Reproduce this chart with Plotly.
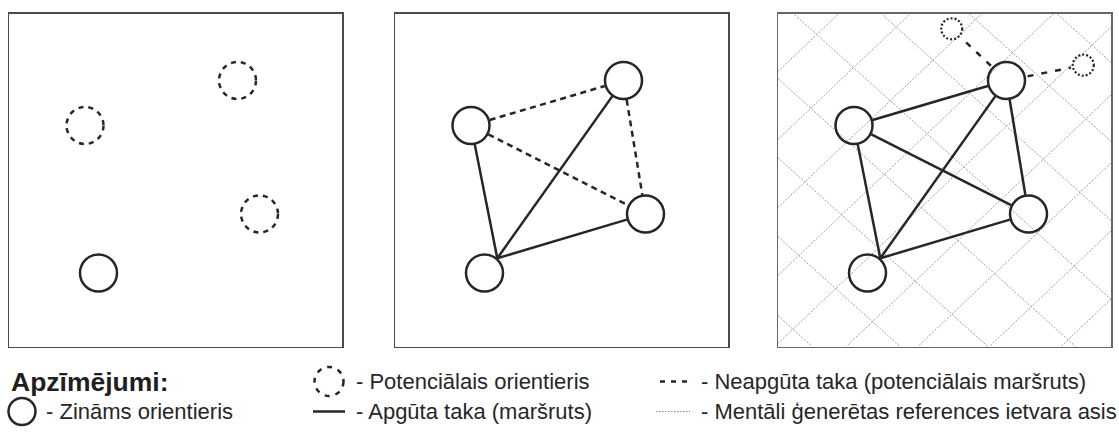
import numpy as np
import plotly.graph_objects as go

W, H = 1119, 434
BOX = 333.0

# ---- data -------------------------------------------------------------
# landmark positions inside each square panel (px from panel top-left)
node_x = [228.5, 76.0, 250.5, 89.5]     # 0 top-right, 1 left, 2 right, 3 bottom
node_y = [67.0, 112.0, 200.5, 259.5]

# panel 1: which landmarks are known / only potential
p1_known = [3]
p1_potential = [0, 1, 2]

# panel 2 routes
p2_learned = [(3, 1), (3, 0), (3, 2)]
p2_unlearned = [(1, 0), (1, 2), (0, 2)]

# panel 3 routes
p3_learned = [(3, 1), (3, 0), (3, 2), (1, 0), (1, 2), (0, 2)]
p3_extra_x = [173.7, 305.3]
p3_extra_y = [15.3, 51.7]
p3_unlearned_to_extra = [(0, 0), (0, 1)]

# mental reference frame axes (panel 3): y = slope*x + offset
grid_a_slope = 0.9
grid_a_offsets = [-250.8, -171.8, -92.8, -13.8, 65.2, 144.2, 223.2, 302.2]
grid_b_slope = -0.95
grid_b_offsets = [-10.1, 57.9, 125.9, 193.9, 261.9, 329.9, 397.9, 465.9, 533.9, 601.9]

legend_title = "Apzīmējumi:"
legend_labels = [
    "- Zināms orientieris",
    "- Potenciālais orientieris",
    "- Apgūta taka (maršruts)",
    "- Neapgūta taka (potenciālais maršruts)",
    "- Mentāli ģenerētas references ietvara asis",
]

# ---- layout ----------------------------------------------------------------
INK = "#262626"
R_BIG = 18.5
R_SMALL = 10.5
HUB = 3                   # the start landmark: all its routes leave from one point
HUB_ANGLE = np.deg2rad(-49)
panel_left = [9, 395, 778]
panel_top = 13.5

fig = go.Figure()
shapes = []
annotations = []


def ax_names(i):
    return ("x" if i == 0 else f"x{i+1}", "y" if i == 0 else f"y{i+1}")


def clip_line(m, c):
    pts = []
    for X in (0.0, BOX):
        Y = m * X + c
        if 0 <= Y <= BOX:
            pts.append((X, Y))
    for Y in (0.0, BOX):
        X = (Y - c) / m
        if 0 <= X <= BOX:
            pts.append((X, Y))
    uniq = []
    for p in pts:
        if all(abs(p[0] - q[0]) > 1e-6 or abs(p[1] - q[1]) > 1e-6 for q in uniq):
            uniq.append(p)
    if len(uniq) < 2:
        return None
    return uniq[:2]


def segment(p, q, rp, rq):
    p = np.array(p, float)
    q = np.array(q, float)
    d = q - p
    u = d / np.linalg.norm(d)
    a = p + u * rp
    b = q - u * rq
    return [a[0], b[0]], [a[1], b[1]]


def route(a, b, r):
    """Route between two landmarks; routes of the hub all leave from one point."""
    if b == HUB:
        a, b = b, a
    pa = np.array([node_x[a], node_y[a]], float)
    pb = np.array([node_x[b], node_y[b]], float)
    if a == HUB:
        start = pa + r * np.array([np.cos(HUB_ANGLE), np.sin(HUB_ANGLE)])
        d = pb - start
        u = d / np.linalg.norm(d)
        end = pb - u * r
        return [start[0], end[0]], [start[1], end[1]]
    return segment(pa, pb, r, r)


def add_line(i, xs, ys, width, dash, color=INK):
    xa, ya = ax_names(i)
    fig.add_trace(go.Scatter(x=xs, y=ys, mode="lines", xaxis=xa, yaxis=ya,
                             line=dict(color=color, width=width, dash=dash),
                             hoverinfo="skip", showlegend=False))


def add_circle(i, cx, cy, r, width, dash, color=INK):
    xa, ya = ax_names(i)
    shapes.append(dict(type="circle", xref=xa, yref=ya,
                       x0=cx - r, x1=cx + r, y0=cy - r, y1=cy + r,
                       line=dict(color=color, width=width, dash=dash)))


# panel 3 grid first (underneath)
for m, offs in ((grid_a_slope, grid_a_offsets), (grid_b_slope, grid_b_offsets)):
    for c in offs:
        seg = clip_line(m, c)
        if seg:
            add_line(2, [seg[0][0], seg[1][0]], [seg[0][1], seg[1][1]], 0.8, "2px,1.5px", "#858585")

# panel 1
for k in p1_known:
    add_circle(0, node_x[k], node_y[k], R_BIG, 2.5, "solid")
for k in p1_potential:
    add_circle(0, node_x[k], node_y[k], R_BIG, 2.5, "5px,5px")

# panel 2
for a, b in p2_learned:
    xs, ys = route(a, b, R_BIG + 1)
    add_line(1, xs, ys, 2.5, "solid")
for a, b in p2_unlearned:
    xs, ys = route(a, b, R_BIG + 1)
    add_line(1, xs, ys, 2.5, "6px,4.5px")
for k in range(4):
    add_circle(1, node_x[k], node_y[k], R_BIG, 2.5, "solid")

# panel 3
for a, b in p3_learned:
    xs, ys = route(a, b, R_BIG + 1)
    add_line(2, xs, ys, 2.5, "solid")
for a, e in p3_unlearned_to_extra:
    xs, ys = segment((node_x[a], node_y[a]), (p3_extra_x[e], p3_extra_y[e]), R_BIG + 3, R_SMALL + 2)
    add_line(2, xs, ys, 2.5, "6px,8px")
for k in range(4):
    add_circle(2, node_x[k], node_y[k], R_BIG, 2.5, "solid")
for e in range(len(p3_extra_x)):
    add_circle(2, p3_extra_x[e], p3_extra_y[e], R_SMALL, 2.2, "2px,2px")

# axes for panels
layout_axes = {}
for i, left in enumerate(panel_left):
    xa = "xaxis" if i == 0 else f"xaxis{i+1}"
    ya = "yaxis" if i == 0 else f"yaxis{i+1}"
    yname = "y" if i == 0 else f"y{i+1}"
    xname = "x" if i == 0 else f"x{i+1}"
    layout_axes[xa] = dict(domain=[left / W, (left + BOX) / W], range=[0, BOX],
                           anchor=yname, showgrid=False, zeroline=False,
                           showticklabels=False, ticks="", showline=True, mirror=True,
                           linecolor="#4a4a4a" if i < 2 else "#666666", linewidth=1.5)
    layout_axes[ya] = dict(domain=[1 - (panel_top + BOX) / H, 1 - panel_top / H],
                           range=[BOX, 0], anchor=xname, showgrid=False, zeroline=False,
                           showticklabels=False, ticks="", showline=True, mirror=True,
                           linecolor="#4a4a4a" if i < 2 else "#666666", linewidth=1.5)

# legend canvas: full-figure axis in pixel units
layout_axes["xaxis4"] = dict(domain=[0, 1], range=[0, W], anchor="y4", visible=False)
layout_axes["yaxis4"] = dict(domain=[0, 1], range=[H, 0], anchor="x4", visible=False)

FONT = "Liberation Sans, Arial, sans-serif"
row1, row2 = 381.5, 411.5
annotations.append(dict(xref="x4", yref="y4", x=9, y=row1, text=f"<b>{legend_title}</b>",
                        showarrow=False, xanchor="left", yanchor="middle",
                        font=dict(family=FONT, size=26.5, color="#1f1f1f")))
# known landmark
shapes.append(dict(type="circle", xref="x4", yref="y4", x0=22 - 13.5, x1=22 + 13.5,
                   y0=row2 - 13.5, y1=row2 + 13.5, line=dict(color=INK, width=2.5)))
# potential landmark
shapes.append(dict(type="circle", xref="x4", yref="y4", x0=329 - 14.5, x1=329 + 14.5,
                   y0=row1 - 14.5, y1=row1 + 14.5, line=dict(color=INK, width=2.5, dash="5px,6px")))
fig.add_trace(go.Scatter(x=[313, 345], y=[row2, row2], xaxis="x4", yaxis="y4", mode="lines",
                         line=dict(color=INK, width=2.5), hoverinfo="skip", showlegend=False))
fig.add_trace(go.Scatter(x=[660, 692], y=[row1, row1], xaxis="x4", yaxis="y4", mode="lines",
                         line=dict(color=INK, width=2.5, dash="5px,6px"), hoverinfo="skip", showlegend=False))
fig.add_trace(go.Scatter(x=[656, 690], y=[row2, row2], xaxis="x4", yaxis="y4", mode="lines",
                         line=dict(color="#8a8a8a", width=1, dash="1.5px,1.5px"), hoverinfo="skip", showlegend=False))

label_pos = [(44, row2), (354, row1), (354, row2), (699, row1), (699, row2)]
for (lx, ly), txt in zip(label_pos, legend_labels):
    annotations.append(dict(xref="x4", yref="y4", x=lx, y=ly, text=txt, showarrow=False,
                            xanchor="left", yanchor="middle",
                            font=dict(family=FONT, size=22, color="#262626")))

fig.update_layout(width=W, height=H, margin=dict(l=0, r=0, t=0, b=0),
                  paper_bgcolor="white", plot_bgcolor="rgba(0,0,0,0)",
                  shapes=shapes, annotations=annotations, showlegend=False,
                  **layout_axes)
fig.write_html("out.html", config={"displayModeBar": False, "staticPlot": True},
               post_script="document.body.style.margin='0';document.body.style.overflow='hidden';")
